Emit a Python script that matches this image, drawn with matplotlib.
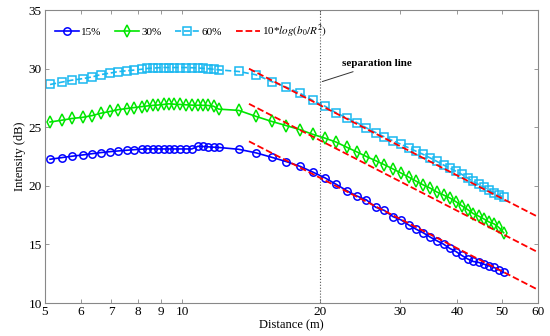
import matplotlib
matplotlib.use("Agg")
import matplotlib.pyplot as plt
from matplotlib.ticker import FixedLocator, NullLocator, FixedFormatter

plt.rcParams['font.family'] = ['Liberation Serif', 'DejaVu Serif']
plt.rcParams['mathtext.fontset'] = 'stix'

# measurement distances (m)
distance = [5.14, 5.45, 5.74, 6.06, 6.36, 6.64, 6.95, 7.24, 7.56, 7.85,
            8.15, 8.39, 8.64, 8.86, 9.11, 9.35, 9.61, 9.88, 10.17, 10.5,
            10.83, 11.11, 11.4, 11.71, 12.02,
            13.3, 14.5, 15.7, 16.9, 18.1, 19.3, 20.5, 21.7, 22.9, 24.1,
            25.3, 26.5, 27.7, 28.9, 30.1, 31.3, 32.5, 33.7, 34.9, 36.1,
            37.3, 38.5, 39.7, 40.9, 42.1, 43.3, 44.5, 45.7, 46.9, 48.1,
            49.3, 50.5]

int_15 = [22.27, 22.41, 22.53, 22.64, 22.75, 22.84, 22.92, 22.98, 23.04, 23.09,
          23.13, 23.15, 23.15, 23.15, 23.15, 23.15, 23.15, 23.15, 23.15, 23.15,
          23.38, 23.36, 23.33, 23.30, 23.28,
          23.12, 22.82, 22.44, 22.07, 21.67, 21.18, 20.70, 20.14, 19.60, 19.14,
          18.80, 18.18, 17.90, 17.38, 17.10, 16.67, 16.30, 15.99, 15.62, 15.31,
          15.03, 14.66, 14.40, 14.06, 13.77, 13.55, 13.47, 13.32, 13.18, 13.04,
          12.84, 12.61]

int_30 = [25.45, 25.60, 25.75, 25.85, 26.00, 26.20, 26.35, 26.50, 26.60, 26.68,
          26.76, 26.82, 26.87, 26.90, 26.95, 27.00, 26.97, 26.95, 26.92, 26.89,
          26.88, 26.87, 26.86, 26.80, 26.55,
          26.44, 25.93, 25.50, 25.14, 24.80, 24.40, 24.08, 23.74, 23.30, 22.90,
          22.50, 22.15, 21.80, 21.45, 21.10, 20.75, 20.40, 20.08, 19.80, 19.47,
          19.22, 18.97, 18.65, 18.30, 17.98, 17.64, 17.42, 17.18, 16.92, 16.76,
          16.45, 16.00]

int_60 = [28.65, 28.85, 29.02, 29.15, 29.30, 29.50, 29.62, 29.75, 29.82, 29.88,
          29.95, 30.02, 30.05, 30.08, 30.10, 30.10, 30.10, 30.10, 30.10, 30.08,
          30.06, 30.03, 30.00, 29.95, 29.90,
          29.76, 29.48, 28.90, 28.42, 27.91, 27.29, 26.81, 26.24, 25.80, 25.40,
          24.95, 24.55, 24.18, 23.85, 23.55, 23.25, 22.95, 22.68, 22.38, 22.08,
          21.78, 21.52, 21.25, 20.98, 20.68, 20.38, 20.12, 19.90, 19.65, 19.42,
          19.20, 19.05]

# 10*log(b0/R^2) reference lines (straight on log-distance axis), end points
fit_x = [14, 60]
fit_15 = [23.8, 11.14]
fit_30 = [27.0, 14.34]
fit_60 = [30.0, 17.36]

xticks = [5, 6, 7, 8, 9, 10, 20, 30, 40, 50, 60]
yticks = [10, 15, 20, 25, 30, 35]

fig = plt.figure(figsize=(5.5, 3.36), dpi=100)
ax = fig.add_axes([0.081, 0.098, 0.897, 0.872])

ax.plot(distance, int_15, '-o', color='#0000ff', lw=1.2, ms=5.3, mfc='none',
        mew=1.1, label='15%')
ax.plot(distance, int_30, '-d', color='#00e600', lw=1.2, ms=5.8, mfc='none',
        mew=1.1, label='30%')
ax.plot(distance, int_60, '--s', color='#1ab8f0', lw=1.2, ms=5.3, mfc='none',
        mew=1.1, label='60%')
ax.plot(fit_x, fit_15, '--', color='#ff0000', lw=1.3, label=r'10*$log(b_0/R^2)$')
ax.plot(fit_x, fit_30, '--', color='#ff0000', lw=1.3)
ax.plot(fit_x, fit_60, '--', color='#ff0000', lw=1.3)

# separation line
ax.axvline(20, color='#555555', ls=':', lw=0.8)
ax.annotate('separation line', xy=(20.25, 28.9), xytext=(22.4, 30.4),
            fontsize=8, fontweight='bold', ha='left', va='center',
            arrowprops=dict(arrowstyle='-', color='#333333', lw=0.7,
                            shrinkA=1, shrinkB=0))

ax.set_xscale('log')
ax.set_xlim(5, 60)
ax.set_ylim(10, 35)
ax.xaxis.set_major_locator(FixedLocator(xticks))
ax.xaxis.set_major_formatter(FixedFormatter([str(t) for t in xticks]))
ax.xaxis.set_minor_locator(NullLocator())
ax.set_yticks(yticks)

ax.tick_params(direction='in', top=True, right=True, length=3, width=0.6,
               color='#888888', labelsize=9.5, pad=2)
for s in ax.spines.values():
    s.set_color('#888888')
    s.set_linewidth(0.8)

ax.set_xlabel('Distance (m)', fontsize=9, labelpad=1)
ax.set_ylabel('Intensity (dB)', fontsize=9, labelpad=2)

ax.legend(loc='upper left', ncol=4, frameon=False, fontsize=8,
          bbox_to_anchor=(0.0, 0.99), handlelength=2.2, columnspacing=1.2,
          handletextpad=0.2)

fig.savefig('out.png', dpi=100)
